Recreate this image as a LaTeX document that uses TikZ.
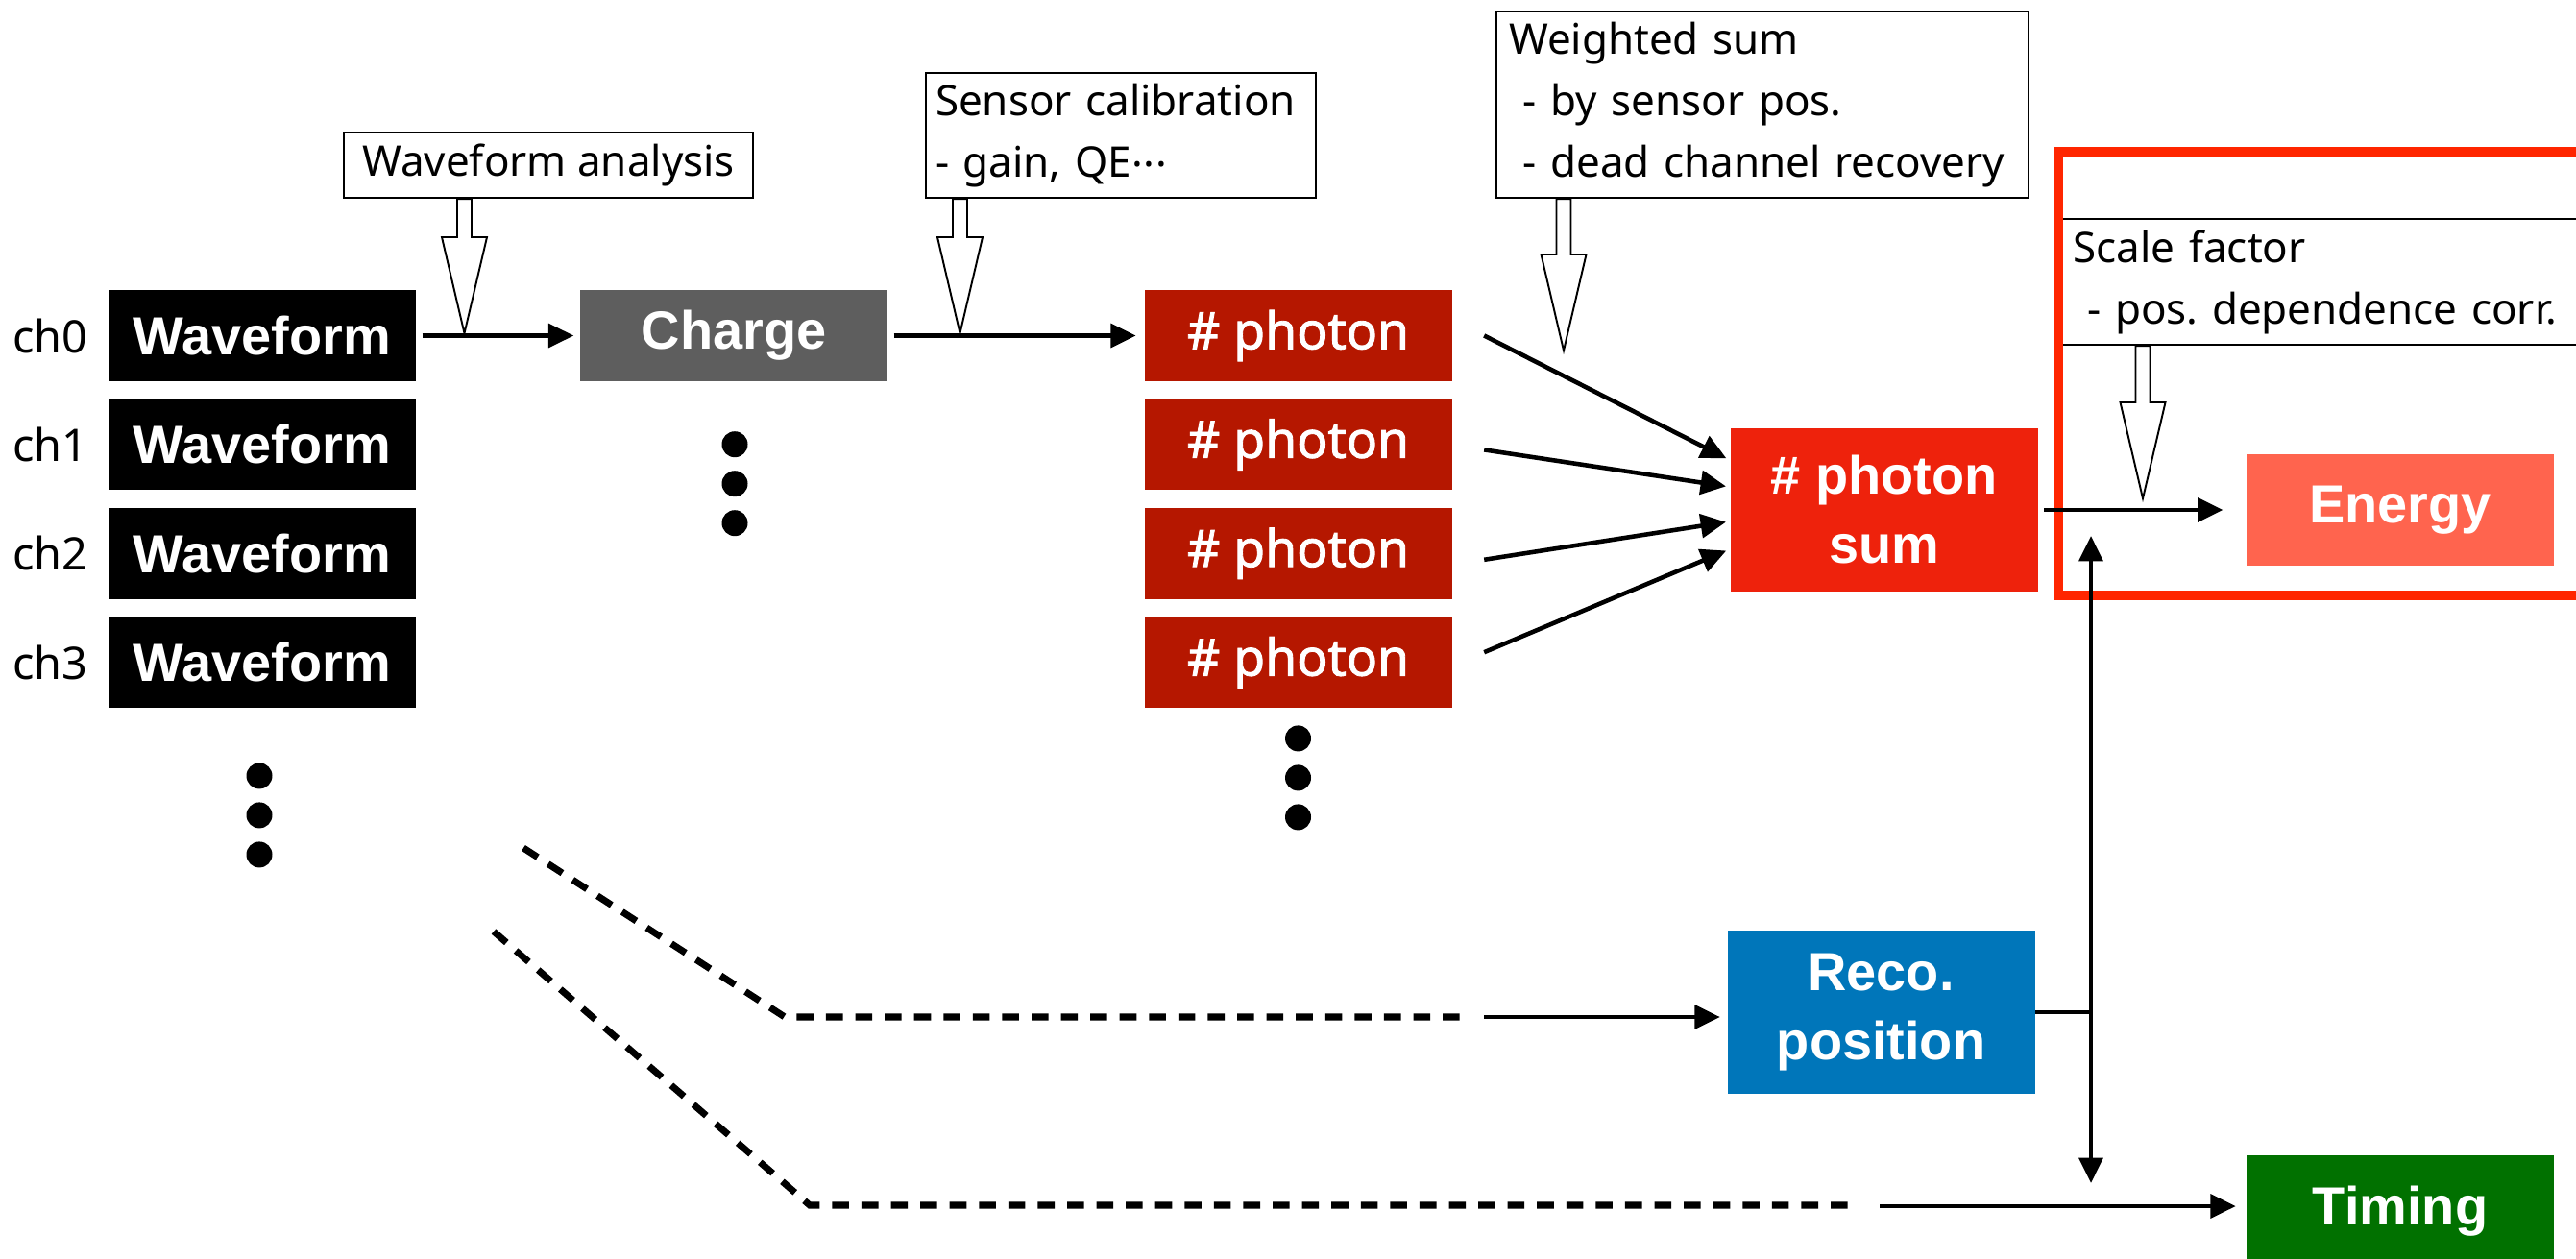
\documentclass[tikz,border=0pt]{standalone}
\usepackage{fontspec}
\setmainfont{Noto Sans}
\newfontfamily\boxfont{Liberation Sans}
\newfontfamily\phfont[FakeBold=1.6]{Noto Sans}
\usetikzlibrary{positioning}
\usetikzlibrary{calc}
\usetikzlibrary{arrows.meta}

\definecolor{chargegray}{RGB}{94,94,94}
\definecolor{photonred}{RGB}{181,23,0}
\definecolor{sumred}{RGB}{238,34,12}
\definecolor{energyred}{RGB}{255,100,78}
\definecolor{recoblue}{RGB}{0,118,186}
\definecolor{timegreen}{RGB}{1,113,0}
\definecolor{framered}{RGB}{255,38,0}

\tikzset{
  blk/.style={minimum width=3.2cm, minimum height=0.95cm, inner sep=0pt, text=white, align=center,
    font=\boxfont\bfseries\fontsize{15.9}{20.5}\selectfont},
  wave/.style={blk, fill=black},
  chargebox/.style={blk, fill=chargegray},
  photon/.style={blk, fill=photonred, font=\phfont\fontsize{15.2}{18}\selectfont},
  chlabel/.style={inner sep=0pt, font=\fontsize{13.3}{15}\selectfont},
  note/.style={draw, line width=0.6pt, align=left, inner ysep=0.03cm, anchor=north west,
    font=\frenchspacing\fontsize{12.5}{18.2}\selectfont},
  flow/.style={line width=1.3pt, -{Triangle[length=7.5pt,width=7pt]}, shorten <=1.7pt, shorten >=1.7pt},
  skip/.style={line width=2pt, dash pattern=on 5pt off 3.7pt},
  hollow/.style={draw, fill=white, line width=0.55pt},
}

% open arrow from the bottom of a note box down to a tip
\newcommand{\hollowarrow}[2]{%
  \draw[hollow] let \p1=(#2 |- #1.south), \p2=(#2) in
    (\x1-0.075cm,\y1) -- (\x1+0.075cm,\y1) -- (\x1+0.075cm,\y2+1cm)
    -- (\x1+0.235cm,\y2+1cm) -- (\p2) -- (\x1-0.235cm,\y2+1cm)
    -- (\x1-0.075cm,\y2+1cm) -- cycle;}

\begin{document}
\begin{tikzpicture}
  \useasboundingbox (0,0) rectangle (26.82,-13.11);
  \clip (0,0) rectangle (26.82,-13.11);

  % channels
  \node[wave] (wf0) at (2.73,-3.495) {Waveform};
  \node[wave, below=0.17cm of wf0] (wf1) {Waveform};
  \node[wave, below=0.17cm of wf1] (wf2) {Waveform};
  \node[wave, below=0.17cm of wf2] (wf3) {Waveform};
  \node[chlabel, left=0.2cm of wf0] (ch0) {ch0};
  \node[chlabel, left=0.2cm of wf1] (ch1) {ch1};
  \node[chlabel, left=0.2cm of wf2] (ch2) {ch2};
  \node[chlabel, left=0.2cm of wf3] (ch3) {ch3};

  \node[chargebox] (charge) at (7.64,-3.495) {Charge};

  \node[photon] (ph0) at (13.515,-3.495) {\# photon};
  \node[photon, below=0.17cm of ph0] (ph1) {\# photon};
  \node[photon, below=0.17cm of ph1] (ph2) {\# photon};
  \node[photon, below=0.17cm of ph2] (ph3) {\# photon};

  \foreach \k in {0,1,2} {
    \fill ($(wf3.south)+(-0.03,-0.70-0.41*\k)$) circle (0.135);
    \fill ($(charge.south)+(0.01,-0.65-0.41*\k)$) circle (0.135);
    \fill ($(ph3.south)+(0,-0.31-0.41*\k)$) circle (0.135);
  }

  \node[blk, fill=sumred, minimum height=1.7cm] (psum) at (19.615,-5.31) {\# photon\\sum};
  \node[blk, fill=recoblue, minimum height=1.7cm] (reco) at (19.585,-10.54) {Reco.\\position};
  \node[blk, fill=timegreen, minimum height=1.16cm] (timing) at (24.99,-12.61) {Timing};

  % notes
  \node[note, minimum width=4.26cm, minimum height=0.68cm, align=center] (wfnote) at (3.57,-1.37) {Waveform analysis};
  \node[note, inner xsep=0.1cm, text width=3.86cm, minimum height=1.30cm] (calnote) at (9.63,-0.75)
    {Sensor calibration\\- gain, QE\raisebox{0.25em}{.\kern0.02em.\kern0.02em.}};
  \node[note, inner xsep=0.13cm, text width=5.28cm, minimum height=1.94cm] (sumnote) at (15.57,-0.11)
    {Weighted sum\\\ - by sensor pos.\\\ - dead channel recovery};
  \node[note, inner xsep=0.145cm, text width=5.71cm, minimum height=1.31cm] (scalenote) at (21.43,-2.27)
    {Scale factor\\\ - pos. dependence corr.};

  \draw[framered, line width=2.85pt] (21.43,-1.585) rectangle (27.5,-6.20);
  \node[blk, fill=energyred, minimum height=1.16cm] (energy) at (24.99,-5.31) {Energy};

  % main chain
  \draw[flow] (wf0) -- (charge);
  \draw[flow, shorten >=2.3pt] (charge) -- (ph0);
  \draw[flow, shorten <=0pt, shorten >=1.1pt] ([shift={(0.33,0)}]ph0.east) -- ([yshift=0.52cm]psum.west);
  \draw[flow, shorten <=0pt, shorten >=1.1pt] ([shift={(0.33,-0.055)}]ph1.east) -- ([yshift=0.24cm]psum.west);
  \draw[flow, shorten <=0pt, shorten >=1.1pt] ([shift={(0.33,-0.065)}]ph2.east) -- ([yshift=-0.12cm]psum.west);
  \draw[flow, shorten <=0pt, shorten >=1.1pt] ([shift={(0.33,0.105)}]ph3.east) -- ([yshift=-0.41cm]psum.west);
  \draw[flow, shorten >=6.8pt] (psum) -- (energy);

  % open arrows
  \coordinate (tipwf) at (4.835,-3.47);
  \coordinate (tipcal) at (9.995,-3.47);
  \coordinate (tipsum) at (16.28,-3.65);
  \coordinate (tipscale) at (22.31,-5.19);
  \hollowarrow{wfnote}{tipwf}
  \hollowarrow{calnote}{tipcal}
  \hollowarrow{sumnote}{tipsum}
  \hollowarrow{scalenote}{tipscale}

  % position and timing branches
  \coordinate (pa) at (5.45,-8.83);
  \coordinate (pb) at (8.17,-10.59);
  \coordinate (pc) at (15.23,-10.59);
  \coordinate (pd) at (15.45,-10.59);
  \draw[skip] (pa) -- (pb) -- (pc);
  \draw[flow, shorten <=0pt, shorten >=2pt] (pd) -- (pd -| reco.west);

  \coordinate (qa) at (5.14,-9.70);
  \coordinate (qb) at (8.43,-12.55);
  \coordinate (qc) at (19.35,-12.55);
  \coordinate (qd) at (19.57,-12.56);
  \draw[skip] (qa) -- (qb) -- (qc);
  \draw[flow, shorten <=0pt, shorten >=3pt] (qd) -- (qd -| timing.west);

  \coordinate (vtop) at (21.77,-5.58);
  \coordinate (vbot) at (21.77,-12.32);
  \draw[flow, {Triangle[length=7.5pt,width=7pt]}-{Triangle[length=7.5pt,width=7pt]}, shorten <=0pt, shorten >=0pt] (vtop) -- (vbot);
  \draw[line width=1.3pt] (reco.east) -- (reco.east -| vtop);
\end{tikzpicture}
\end{document}
